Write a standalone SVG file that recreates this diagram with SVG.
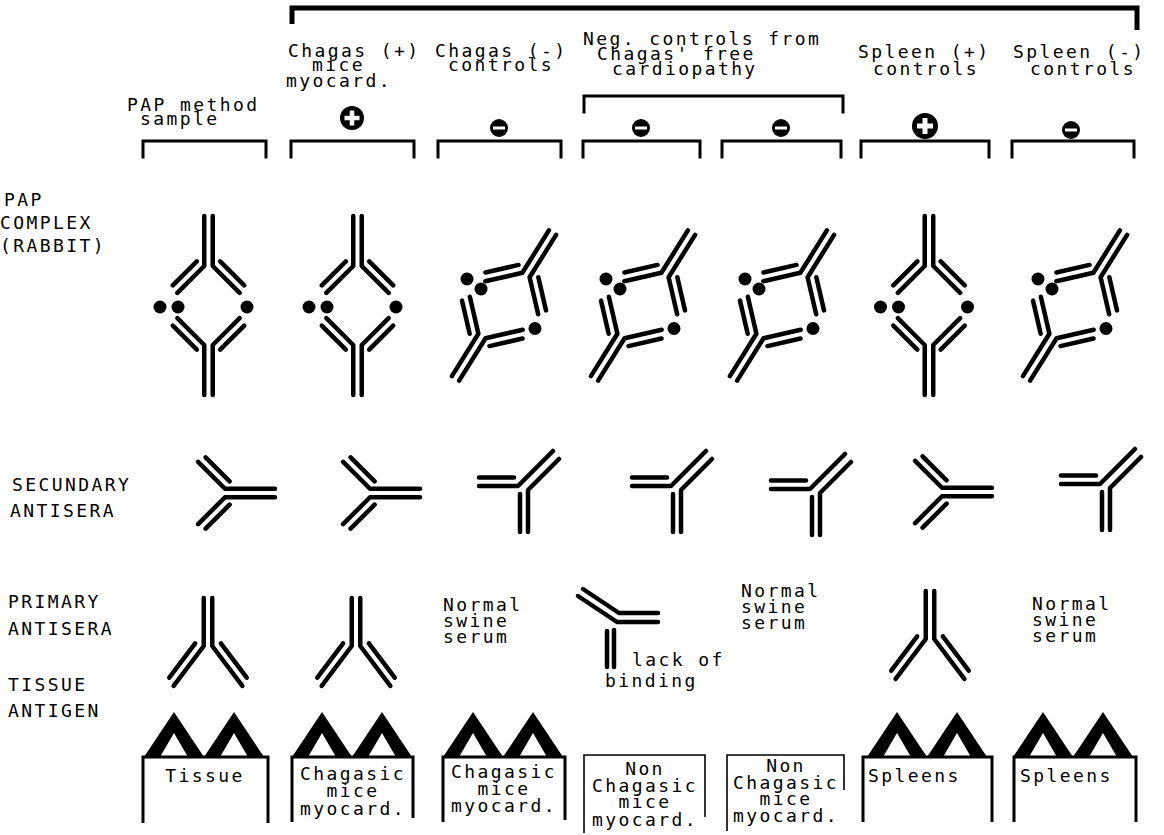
<svg xmlns="http://www.w3.org/2000/svg" width="1164" height="835" viewBox="0 0 1164 835">
<style>
.ln{fill:none;stroke:#000;stroke-width:4.5;stroke-linecap:round;stroke-linejoin:round}
.br{fill:none;stroke:#000;stroke-width:3;stroke-linecap:square;stroke-linejoin:miter}
.bx{fill:none;stroke:#000;stroke-width:3}
.bxt{fill:none;stroke:#000;stroke-width:1.6}
.t{font-family:"DejaVu Sans Mono","Liberation Mono",monospace;font-size:18px;letter-spacing:2.4px;fill:#000}
.c{text-anchor:middle}
.dot{fill:#000}
.ag{fill:#000;fill-rule:evenodd}
.wb{stroke:#fff;fill:none}
</style>
<defs>
  <!-- symmetric antibody: fork at origin, stem down, arms up at 45 deg -->
  <g id="ab"><path class="ln" d="M-4.25 50V0L-31.15-26.9M4.25 50V0L31.15-26.9M-11.67 4.6L-35.7-19.4M11.67 4.6L35.7-19.4"/></g>
  <!-- primary antibody: longer, steeper arms -->
  <g id="abp"><path class="ln" d="M-4.25 48V0L-34.35-39.95M4.25 48V0L34.35-39.95M-12.85 2.72L-38.73-31.63M12.85 2.72L38.73-31.63"/></g>
  <!-- flexed antibody: one arm horizontal, one arm at 45 deg -->
  <g id="abf"><path class="ln" d="M-39-8.5H-4M-39 0H0L35-35M10 46V4L41-27M2 8V46"/></g>
  <!-- antigen peak -->
  <path id="ag" class="ag" d="M-30 45L0 0L30 45ZM-14 45L0 21L14 45Z"/>
</defs>

<!-- brackets -->
<g id="brackets">
  <path d="M292 24V8H1137V30" fill="none" stroke="#000" stroke-width="5"/>
  <path class="br" d="M584 112V96H843V112"/>
  <path class="br" d="M143 157V141H266V157"/>
  <path class="br" d="M291 157V141H414V157"/>
  <path class="br" d="M438 157V141H561V157"/>
  <path class="br" d="M583 157V141H700V157"/>
  <path class="br" d="M722 157V141H841V157"/>
  <path class="br" d="M861 157V141H989V157"/>
  <path class="br" d="M1012 157V141H1134V157"/>
</g>

<!-- header labels -->
<g id="headers" class="t">
  <text x="127" y="111">PAP method</text>
  <text x="140" y="125">sample</text>
  <text x="288" y="57">Chagas (+)</text>
  <text x="312" y="71">mice</text>
  <text x="286" y="87">myocard.</text>
  <text x="435" y="57">Chagas (-)</text>
  <text x="448" y="71">controls</text>
  <text x="583" y="45">Neg. controls from</text>
  <text x="597" y="60">Chagas' free</text>
  <text x="612" y="75">cardiopathy</text>
  <text x="858" y="58">Spleen (+)</text>
  <text x="873" y="75">controls</text>
  <text x="1013" y="58">Spleen (-)</text>
  <text x="1030" y="75">controls</text>
</g>

<!-- signs -->
<g id="signs">
  <circle cx="352" cy="118" r="12"/><path class="wb" stroke-width="4.5" d="M352 110.5v15M344.5 118h15"/>
  <circle cx="499" cy="128" r="9"/><path class="wb" stroke-width="3" d="M493 128h12"/>
  <circle cx="641" cy="128" r="9"/><path class="wb" stroke-width="3" d="M635 128h12"/>
  <circle cx="781" cy="128" r="9"/><path class="wb" stroke-width="3" d="M775 128h12"/>
  <circle cx="925" cy="126" r="13"/><path class="wb" stroke-width="5" d="M925 118v16M917 126h16"/>
  <circle cx="1071" cy="130" r="9"/><path class="wb" stroke-width="3" d="M1065 130h12"/>
</g>

<!-- row labels -->
<g id="row-labels" class="t">
  <text x="4" y="206">PAP</text>
  <text x="0" y="229">COMPLEX</text>
  <text x="0" y="252">(RABBIT)</text>
  <text x="12" y="491">SECUNDARY</text>
  <text x="10" y="517">ANTISERA</text>
  <text x="8" y="608">PRIMARY</text>
  <text x="8" y="635">ANTISERA</text>
  <text x="8" y="691">TISSUE</text>
  <text x="8" y="717">ANTIGEN</text>
</g>

<!-- PAP complexes -->
<g id="pap-0">
  <use href="#ab" transform="translate(208.5 266) rotate(180)"/>
  <use href="#ab" transform="translate(208.5 345)"/>
  <circle class="dot" cx="160" cy="307" r="6.5"/><circle class="dot" cx="178" cy="307" r="6.5"/><circle class="dot" cx="247" cy="307" r="6.5"/>
</g>
<g id="pap-1">
  <use href="#ab" transform="translate(357.5 266) rotate(180)"/>
  <use href="#ab" transform="translate(357.5 345)"/>
  <circle class="dot" cx="309" cy="307" r="6.5"/><circle class="dot" cx="327" cy="307" r="6.5"/><circle class="dot" cx="396" cy="307" r="6.5"/>
</g>
<g id="pap-2">
  <use href="#ab" transform="translate(526 275) rotate(-148)"/>
  <use href="#ab" transform="translate(482 336) rotate(32)"/>
  <circle class="dot" cx="467" cy="279" r="6.5"/><circle class="dot" cx="481" cy="289" r="6.5"/><circle class="dot" cx="535" cy="328.5" r="6.5"/>
</g>
<g id="pap-3">
  <use href="#ab" transform="translate(665 275) rotate(-148)"/>
  <use href="#ab" transform="translate(621 336) rotate(32)"/>
  <circle class="dot" cx="606" cy="279" r="6.5"/><circle class="dot" cx="620" cy="289" r="6.5"/><circle class="dot" cx="674" cy="328.5" r="6.5"/>
</g>
<g id="pap-4">
  <use href="#ab" transform="translate(804 275) rotate(-148)"/>
  <use href="#ab" transform="translate(760 336) rotate(32)"/>
  <circle class="dot" cx="745" cy="279" r="6.5"/><circle class="dot" cx="759" cy="289" r="6.5"/><circle class="dot" cx="813" cy="328.5" r="6.5"/>
</g>
<g id="pap-5">
  <use href="#ab" transform="translate(929 266) rotate(180)"/>
  <use href="#ab" transform="translate(929 345)"/>
  <circle class="dot" cx="880.5" cy="307" r="6.5"/><circle class="dot" cx="898.5" cy="307" r="6.5"/><circle class="dot" cx="967.5" cy="307" r="6.5"/>
</g>
<g id="pap-6">
  <use href="#ab" transform="translate(1097 275) rotate(-148)"/>
  <use href="#ab" transform="translate(1053 336) rotate(32)"/>
  <circle class="dot" cx="1038" cy="279" r="6.5"/><circle class="dot" cx="1052" cy="289" r="6.5"/><circle class="dot" cx="1106" cy="328.5" r="6.5"/>
</g>

<!-- secondary antisera -->
<g id="sec-0"><use href="#ab" transform="translate(225 493) rotate(-90)"/></g>
<g id="sec-1"><use href="#ab" transform="translate(370 493) rotate(-90)"/></g>
<g id="sec-2"><use href="#abf" transform="translate(518 486)"/></g>
<g id="sec-3"><use href="#abf" transform="translate(671 486)"/></g>
<g id="sec-4"><use href="#abf" transform="translate(810 489)"/></g>
<g id="sec-5"><use href="#ab" transform="translate(942 492) rotate(-90)"/></g>
<g id="sec-6"><use href="#abf" transform="translate(1100 484)"/></g>

<!-- primary antisera -->
<g id="pri-0"><use href="#abp" transform="translate(208 646) rotate(180)"/></g>
<g id="pri-1"><use href="#abp" transform="translate(356 646) rotate(180)"/></g>
<g id="pri-2" class="t">
  <text x="443" y="611">Normal</text>
  <text x="443" y="627">swine</text>
  <text x="443" y="643">serum</text>
</g>
<g id="pri-3">
  <path class="ln" d="M583 589L619 613H658M578 596L617 622H658M607 631V667M614 630V667"/>
  <text class="t" x="632" y="666">lack of</text>
  <text class="t" x="605" y="687">binding</text>
</g>
<g id="pri-4" class="t">
  <text x="741" y="597">Normal</text>
  <text x="741" y="613">swine</text>
  <text x="741" y="629">serum</text>
</g>
<g id="pri-5"><use href="#abp" transform="translate(930 639) rotate(180)"/></g>
<g id="pri-6" class="t">
  <text x="1032" y="610">Normal</text>
  <text x="1032" y="626">swine</text>
  <text x="1032" y="642">serum</text>
</g>

<!-- tissue blocks -->
<g id="tissue-0">
  <use href="#ag" transform="translate(174 712)"/><use href="#ag" transform="translate(234 712)"/>
  <path class="bx" d="M143 823V757H268V823"/>
  <text class="t c" x="205" y="782">Tissue</text>
</g>
<g id="tissue-1">
  <use href="#ag" transform="translate(322 712)"/><use href="#ag" transform="translate(382 712)"/>
  <path class="bx" d="M292 822V757H413V818"/>
  <text class="t c" x="353" y="780">Chagasic</text>
  <text class="t c" x="353" y="797">mice</text>
  <text class="t c" x="353" y="815">myocard.</text>
</g>
<g id="tissue-2">
  <use href="#ag" transform="translate(473 712)"/><use href="#ag" transform="translate(533 712)"/>
  <path class="bx" d="M443 822V757H565V820"/>
  <text class="t c" x="504" y="778">Chagasic</text>
  <text class="t c" x="504" y="795">mice</text>
  <text class="t c" x="504" y="812">myocard.</text>
</g>
<g id="tissue-3">
  <path class="bxt" d="M584 833V755H705V817"/>
  <text class="t c" x="645" y="775">Non</text>
  <text class="t c" x="645" y="792">Chagasic</text>
  <text class="t c" x="645" y="808">mice</text>
  <text class="t c" x="645" y="826">myocard.</text>
</g>
<g id="tissue-4">
  <path class="bxt" d="M727 831V755H844V790"/>
  <text class="t c" x="786" y="772">Non</text>
  <text class="t c" x="786" y="789">Chagasic</text>
  <text class="t c" x="786" y="805">mice</text>
  <text class="t c" x="786" y="822">myocard.</text>
</g>
<g id="tissue-5">
  <use href="#ag" transform="translate(897 712)"/><use href="#ag" transform="translate(957 712)"/>
  <path class="bx" d="M863 822V757H992V822"/>
  <text class="t" x="868" y="782">Spleens</text>
</g>
<g id="tissue-6">
  <use href="#ag" transform="translate(1043 712)"/><use href="#ag" transform="translate(1103 712)"/>
  <path class="bx" d="M1014 822V757H1136V822"/>
  <text class="t" x="1020" y="782">Spleens</text>
</g>
</svg>
